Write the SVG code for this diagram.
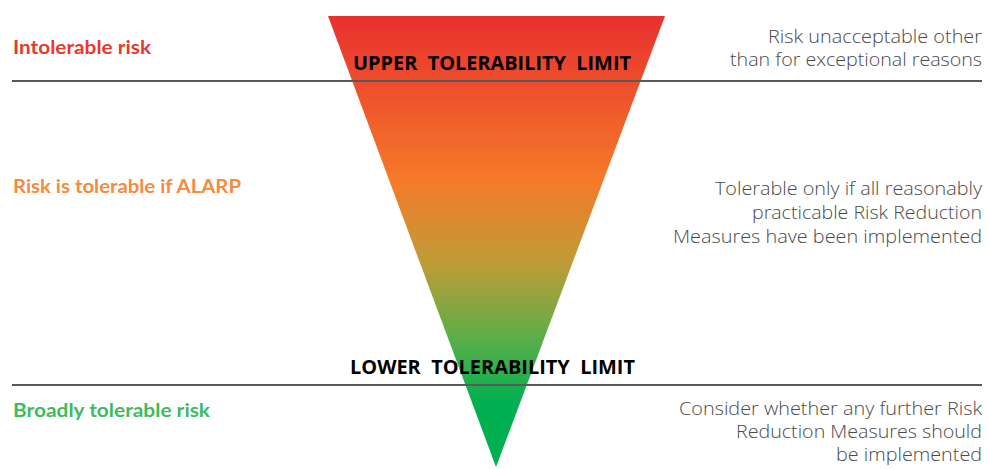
<svg xmlns="http://www.w3.org/2000/svg" width="988" height="469" viewBox="0 0 988 469">
<style>
.lbl{font-family:Lato,"Open Sans",sans-serif;font-weight:bold;font-size:18px}
.lim{font-family:"Open Sans","Noto Sans",sans-serif;font-weight:bold;font-size:19px;fill:#000}
.desc{font-family:"Open Sans","Noto Sans",sans-serif;font-weight:300;font-size:18px;fill:#4a4a4a;text-anchor:end}
.rule{stroke:#595959;stroke-width:2}
</style>
<defs>
<linearGradient id="g" x1="0" y1="16" x2="0" y2="467" gradientUnits="userSpaceOnUse">
<stop offset="0" stop-color="#E8302E"/>
<stop offset="0.37" stop-color="#F47B29"/>
<stop offset="0.55" stop-color="#BE9C38"/>
<stop offset="0.72" stop-color="#58AF4A"/>
<stop offset="0.86" stop-color="#00B050"/>
<stop offset="1" stop-color="#00B050"/>
</linearGradient>
</defs>
<g id="triangle"><polygon points="328,16 665,16 496,467" fill="url(#g)"/></g>
<g id="connectors">
<line class="rule" x1="12" y1="81" x2="982" y2="81"/>
<line class="rule" x1="12" y1="385" x2="982" y2="385"/>
</g>
<g id="upper-limit"><text class="lim" x="353" y="70" textLength="278" lengthAdjust="spacingAndGlyphs" xml:space="preserve">UPPER  TOLERABILITY  LIMIT</text></g>
<g id="lower-limit"><text class="lim" x="350" y="374" textLength="285" lengthAdjust="spacingAndGlyphs" xml:space="preserve">LOWER  TOLERABILITY  LIMIT</text></g>
<g id="intolerable"><text class="lbl" x="13" y="54" fill="#E8392F" textLength="138" lengthAdjust="spacingAndGlyphs">Intolerable risk</text></g>
<g id="alarp"><text class="lbl" x="13" y="193" fill="#F58B3E" textLength="228" lengthAdjust="spacingAndGlyphs">Risk is tolerable if ALARP</text></g>
<g id="broadly"><text class="lbl" x="13" y="417" fill="#3DBB5E" textLength="197" lengthAdjust="spacingAndGlyphs">Broadly tolerable risk</text></g>
<g id="desc-intolerable">
<text class="desc" x="982" y="43" textLength="214" lengthAdjust="spacingAndGlyphs">Risk unacceptable other</text>
<text class="desc" x="982" y="66" textLength="252" lengthAdjust="spacingAndGlyphs">than for exceptional reasons</text>
</g>
<g id="desc-alarp">
<text class="desc" x="982" y="195" textLength="267" lengthAdjust="spacingAndGlyphs">Tolerable only if all reasonably</text>
<text class="desc" x="982" y="219" textLength="230" lengthAdjust="spacingAndGlyphs">practicable Risk Reduction</text>
<text class="desc" x="982" y="243" textLength="309" lengthAdjust="spacingAndGlyphs">Measures have been implemented</text>
</g>
<g id="desc-broadly">
<text class="desc" x="982" y="415" textLength="303" lengthAdjust="spacingAndGlyphs">Consider whether any further Risk</text>
<text class="desc" x="982" y="438" textLength="246" lengthAdjust="spacingAndGlyphs">Reduction Measures should</text>
<text class="desc" x="982" y="461" textLength="146" lengthAdjust="spacingAndGlyphs">be implemented</text>
</g>
</svg>
